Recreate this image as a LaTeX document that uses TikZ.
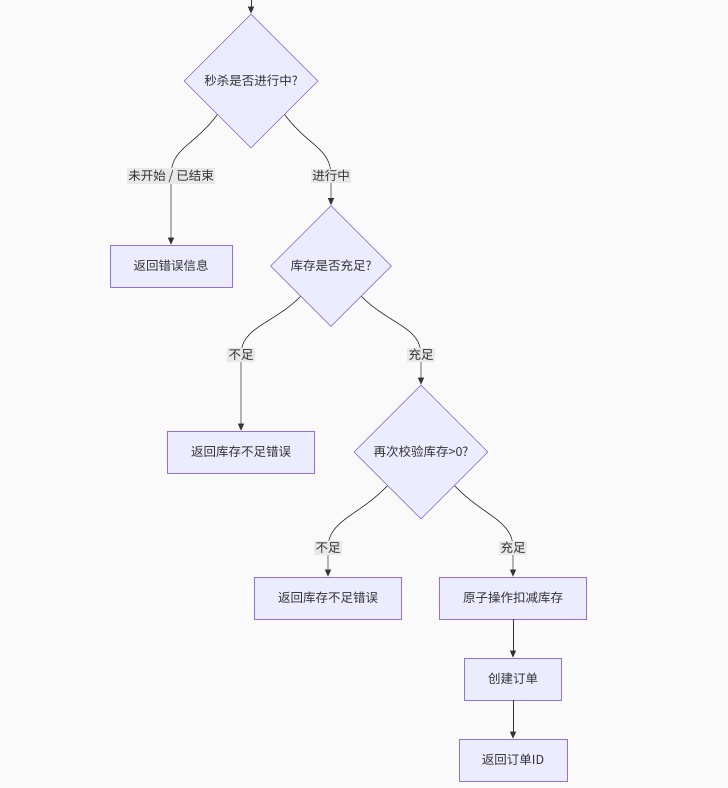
\documentclass[tikz,border=0pt]{standalone}
\usepackage{fontspec}
\newfontfamily\cjk{Noto Sans CJK SC}
\usetikzlibrary{shapes.geometric,arrows.meta}
\definecolor{nodefill}{HTML}{ECECFF}
\definecolor{nodeline}{HTML}{9370DB}
\definecolor{edgeline}{HTML}{333333}
\definecolor{lblfill}{HTML}{E8E8E8}
\definecolor{bgcol}{HTML}{FAFAFA}
\begin{document}
\begin{tikzpicture}[x=1pt,y=-1pt,
  every node/.style={font=\cjk\fontsize{12.5}{15}\selectfont,text=edgeline},
  box/.style={draw=nodeline,fill=nodefill,line width=0.8pt,minimum height=42pt,inner sep=0pt},
  decision/.style={diamond,draw=nodeline,fill=nodefill,line width=0.8pt,inner sep=0pt,aspect=1},
  lbl/.style={fill=lblfill,inner sep=1.5pt},
  edge/.style={draw=edgeline,line width=0.7pt,-{Triangle[length=7pt,width=6pt]}}]
\fill[bgcol] (0,0) rectangle (728,788);
\useasboundingbox (0,0) rectangle (728,788);
\node[decision,minimum size=134pt] (check) at (251,81) {秒杀是否进行中?};
\node[box,minimum width=122pt] (errmsg) at (171,266) {返回错误信息};
\node[decision,minimum size=121pt] (stock) at (331,266) {库存是否充足?};
\node[box,minimum width=147pt] (lowa) at (241,452) {返回库存不足错误};
\node[decision,minimum size=134pt] (recheck) at (421,452) {再次校验库存>0?};
\node[box,minimum width=147pt] (lowb) at (328,598) {返回库存不足错误};
\node[box,minimum width=147pt] (deduct) at (513,598) {原子操作扣减库存};
\node[box,minimum width=97pt] (order) at (513,679) {创建订单};
\node[box,minimum width=108pt] (result) at (513,760) {返回订单ID};
\coordinate (start) at (251,0);
\coordinate (l1) at (171,176);
\coordinate (l2) at (331,176);
\coordinate (l3) at (241,355);
\coordinate (l4) at (421,355);
\coordinate (l5) at (328,548);
\coordinate (l6) at (513,548);
\draw[edge] (start) -- (check);
\draw[edge] (check.south west) .. controls +(-24,32) and +(0,-28) .. (l1) -- (errmsg);
\draw[edge] (check.south east) .. controls +(24,32) and +(0,-28) .. (l2) -- (stock);
\draw[edge] (stock.south west) .. controls +(-28,28) and +(0,-28) .. (l3) -- (lowa);
\draw[edge] (stock.south east) .. controls +(28,28) and +(0,-28) .. (l4) -- (recheck);
\draw[edge] (recheck.south west) .. controls +(-28,30) and +(0,-28) .. (l5) -- (lowb);
\draw[edge] (recheck.south east) .. controls +(28,30) and +(0,-28) .. (l6) -- (deduct);
\draw[edge] (deduct) -- (order);
\draw[edge] (order) -- (result);
\node[lbl] (ended) at (l1) {未开始 / 已结束};
\node[lbl] (running) at (l2) {进行中};
\node[lbl] (shorta) at (l3) {不足};
\node[lbl] (enougha) at (l4) {充足};
\node[lbl] (shortb) at (l5) {不足};
\node[lbl] (enoughb) at (l6) {充足};
\end{tikzpicture}
\end{document}
